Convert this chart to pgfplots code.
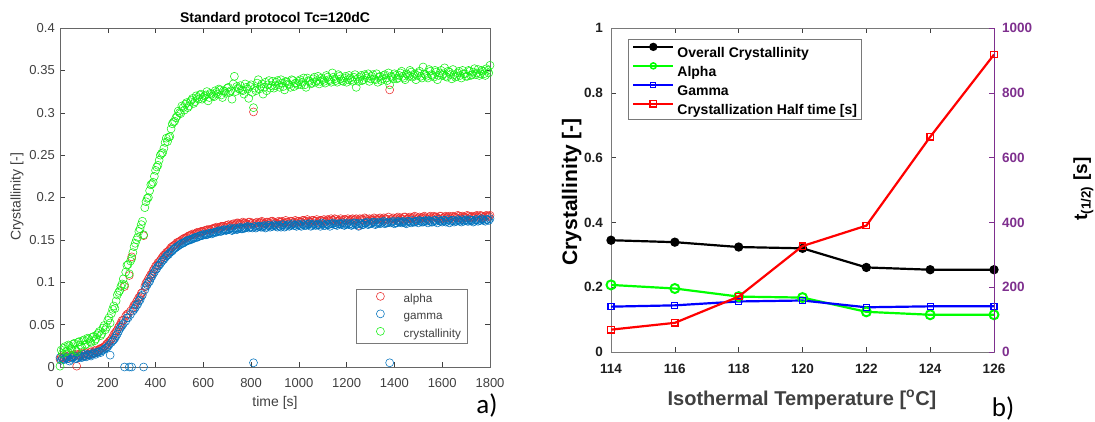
\documentclass[border=0pt]{standalone}
\usepackage{fontspec}
\setmainfont{Liberation Sans}
\newfontfamily\calib{Carlito}
\usepackage{pgfplots}
\pgfplotsset{compat=1.18}
\usepackage{pgfplotstable}

\definecolor{mred}{RGB}{235,45,45}
\definecolor{mblue}{RGB}{0,114,189}
\definecolor{mgreen}{RGB}{20,240,20}
\definecolor{mpurple}{RGB}{126,47,142}
\definecolor{axgray}{RGB}{64,64,64}
\definecolor{txtblack}{RGB}{30,30,30}

% time [s], alpha, gamma, overall crystallinity
\pgfplotstableread{
t a g c
0 .009 .011 .001
5 .012 .008 .020
10 .011 .010 .016
20 .013 .009 .024
30 .010 .012 .019
40 .014 .007 .025
50 .012 .011 .021
60 .015 .013 .028
70 .001 .010 .018
80 .014 .012 .030
90 .016 .011 .024
100 .013 .015 .032
110 .017 .012 .027
120 .015 .014 .033
130 .018 .013 .029
140 .016 .017 .036
150 .020 .015 .033
160 .019 .018 .040
170 .022 .017 .037
180 .023 .020 .046
190 .025 .022 .044
200 .028 .024 .055
210 .031 .014 .052
220 .035 .031 .068
230 .040 .034 .069
240 .044 .039 .085
250 .049 .045 .090
260 .055 .049 .098
270 .095 .000 .097
280 .062 .058 .120
290 .108 .000 .110
300 .130 .000 .128
310 .073 .068 .142
320 .077 .073 .150
330 .082 .078 .160
340 .087 .083 .168
350 .155 .000 .156
360 .099 .095 .195
370 .104 .100 .200
380 .109 .105 .215
390 .114 .110 .218
400 .119 .115 .232
410 .123 .119 .238
420 .126 .122 .250
430 .130 .126 .253
440 .133 .129 .265
450 .136 .132 .266
460 .139 .135 .272
470 .142 .137 .287
480 .144 .140 .290
490 .147 .142 .296
500 .148 .144 .300
510 .150 .146 .308
520 .152 .147 .303
530 .153 .149 .312
540 .155 .150 .308
550 .156 .151 .315
560 .156 .152 .311
570 .158 .153 .320
580 .158 .154 .316
590 .160 .155 .322
600 .160 .156 .318
610 .161 .156 .321
620 .162 .157 .314
630 .161 .158 .323
640 .163 .158 .320
650 .164 .159 .326
660 .163 .160 .322
670 .165 .160 .327
680 .166 .161 .318
690 .165 .162 .325
700 .167 .162 .329
710 .166 .163 .324
720 .168 .161 .316
730 .167 .163 .343
740 .170 .162 .331
750 .169 .164 .328
760 .168 .163 .327
770 .170 .164 .322
780 .169 .165 .330
790 .171 .164 .317
800 .169 .165 .333
810 .301 .005 .306
820 .170 .164 .326
830 .168 .166 .339
840 .171 .165 .331
850 .170 .166 .322
860 .169 .164 .336
870 .171 .167 .333
880 .168 .165 .329
890 .172 .166 .337
900 .170 .167 .332
910 .169 .165 .338
920 .171 .166 .330
930 .172 .168 .335
940 .170 .165 .327
950 .171 .167 .336
960 .169 .166 .333
970 .172 .168 .339
980 .171 .167 .331
990 .170 .166 .335
1000 .172 .168 .337
1010 .171 .166 .333
1020 .173 .168 .341
1030 .170 .167 .330
1040 .172 .169 .338
1050 .171 .166 .334
1060 .173 .168 .340
1070 .172 .167 .336
1080 .170 .168 .343
1090 .173 .166 .337
1100 .172 .169 .339
1110 .171 .167 .335
1120 .174 .168 .342
1130 .172 .166 .338
1140 .173 .169 .347
1150 .175 .168 .340
1160 .172 .167 .336
1170 .173 .169 .343
1180 .171 .168 .338
1190 .174 .167 .341
1200 .173 .169 .336
1210 .172 .168 .344
1220 .174 .167 .339
1230 .173 .170 .342
1240 .175 .168 .330
1250 .167 .166 .337
1260 .174 .169 .344
1270 .173 .168 .339
1280 .175 .170 .343
1290 .172 .168 .346
1300 .174 .169 .340
1310 .173 .171 .345
1320 .175 .168 .339
1330 .174 .170 .336
1340 .176 .169 .343
1350 .173 .171 .340
1360 .175 .169 .345
1370 .174 .170 .338
1380 .327 .005 .333
1390 .175 .171 .342
1400 .174 .169 .346
1410 .176 .170 .340
1420 .173 .171 .344
1430 .175 .170 .349
1440 .177 .171 .341
1450 .174 .169 .346
1460 .176 .172 .343
1470 .175 .170 .348
1480 .177 .171 .344
1490 .174 .172 .339
1500 .176 .170 .347
1510 .175 .172 .343
1520 .177 .171 .354
1530 .176 .173 .345
1540 .174 .170 .341
1550 .178 .172 .349
1560 .175 .171 .344
1570 .177 .173 .350
1580 .176 .170 .339
1590 .178 .172 .347
1600 .175 .171 .344
1610 .177 .173 .353
1620 .176 .172 .342
1630 .178 .170 .348
1640 .175 .173 .340
1650 .177 .171 .345
1660 .176 .172 .343
1670 .178 .173 .349
1680 .175 .171 .341
1690 .177 .172 .346
1700 .176 .174 .343
1710 .178 .172 .350
1720 .177 .173 .344
1730 .176 .171 .348
1740 .178 .174 .345
1750 .177 .172 .351
1760 .179 .173 .346
1770 .176 .174 .349
1780 .178 .172 .344
1790 .177 .174 .350
1800 .179 .175 .356
15 .012 .009 .022
25 .011 .011 .018
35 .013 .010 .026
45 .012 .009 .022
55 .014 .012 .027
65 .013 .010 .020
75 .015 .011 .029
85 .013 .013 .026
95 .015 .012 .031
105 .016 .013 .026
115 .014 .015 .034
125 .017 .014 .030
135 .016 .015 .035
145 .019 .016 .031
155 .018 .017 .038
165 .021 .018 .042
175 .022 .019 .039
185 .024 .021 .049
195 .027 .023 .047
205 .030 .026 .058
215 .033 .029 .063
225 .038 .032 .072
235 .042 .037 .078
245 .047 .042 .088
255 .052 .047 .095
265 .055 .051 .104
275 .060 .054 .112
285 .063 .058 .121
295 .066 .062 .125
305 .070 .066 .135
315 .074 .070 .146
325 .079 .074 .153
335 .083 .079 .163
345 .088 .085 .172
355 .095 .091 .188
365 .101 .097 .199
375 .106 .101 .208
385 .110 .107 .216
395 .116 .112 .225
405 .120 .116 .236
415 .124 .120 .244
425 .128 .124 .252
435 .132 .127 .258
445 .135 .131 .270
455 .137 .133 .271
465 .141 .136 .281
475 .143 .139 .289
485 .145 .141 .294
495 .147 .143 .302
505 .149 .145 .299
515 .151 .146 .306
525 .152 .148 .310
535 .154 .149 .306
545 .155 .150 .313
555 .157 .151 .317
565 .157 .153 .313
575 .159 .153 .318
585 .159 .155 .321
595 .160 .155 .316
605 .161 .157 .320
615 .162 .156 .325
625 .162 .158 .318
635 .163 .157 .322
645 .164 .159 .319
655 .165 .159 .324
665 .164 .161 .328
675 .166 .160 .321
685 .166 .162 .326
695 .167 .161 .323
705 .168 .162 .330
715 .167 .164 .326
725 .169 .162 .334
735 .168 .164 .325
745 .170 .163 .329
755 .169 .165 .332
765 .171 .163 .326
775 .170 .164 .334
785 .168 .166 .328
795 .171 .165 .331
805 .170 .164 .324
815 .169 .166 .329
825 .171 .165 .335
835 .170 .166 .328
845 .172 .165 .334
855 .169 .167 .330
865 .171 .165 .326
875 .170 .167 .338
885 .172 .166 .332
895 .171 .168 .329
905 .170 .166 .336
915 .172 .167 .333
925 .171 .165 .339
935 .170 .168 .331
945 .173 .166 .337
955 .171 .168 .334
965 .172 .167 .330
975 .170 .169 .338
985 .173 .167 .335
995 .172 .168 .333
1005 .171 .167 .339
1015 .173 .169 .336
1025 .172 .167 .333
1035 .174 .168 .341
1045 .171 .169 .337
1055 .173 .167 .335
1065 .172 .169 .342
1075 .174 .168 .338
1085 .172 .168 .334
1095 .173 .170 .341
1105 .174 .167 .337
1115 .172 .169 .344
1125 .173 .168 .339
1135 .175 .169 .336
1145 .173 .170 .342
1155 .174 .168 .338
1165 .172 .169 .345
1175 .175 .169 .340
1185 .173 .170 .337
1195 .174 .168 .343
1205 .175 .170 .339
1215 .173 .169 .341
1225 .175 .168 .337
1235 .174 .170 .345
1245 .172 .169 .340
1255 .175 .170 .342
1265 .174 .168 .338
1275 .176 .170 .345
1285 .174 .171 .341
1295 .175 .169 .337
1305 .173 .170 .343
1315 .176 .171 .340
1325 .174 .169 .346
1335 .175 .171 .342
1345 .174 .170 .338
1355 .176 .172 .344
1365 .175 .170 .341
1375 .177 .171 .347
1385 .174 .170 .343
1395 .176 .172 .340
1405 .175 .170 .344
1415 .177 .172 .341
1425 .176 .171 .347
1435 .174 .172 .343
1445 .177 .170 .339
1455 .175 .172 .345
1465 .177 .171 .350
1475 .176 .173 .342
1485 .178 .171 .346
1495 .175 .172 .344
1505 .177 .173 .349
1515 .176 .171 .341
1525 .178 .172 .346
1535 .175 .172 .343
1545 .177 .173 .351
1555 .176 .171 .345
1565 .178 .173 .342
1575 .177 .172 .348
1585 .175 .174 .344
1595 .178 .172 .350
1605 .176 .173 .346
1615 .178 .171 .343
1625 .177 .174 .349
1635 .176 .172 .345
1645 .178 .173 .351
1655 .177 .172 .342
1665 .179 .174 .347
1675 .176 .172 .344
1685 .178 .174 .350
1695 .177 .173 .346
1705 .179 .172 .343
1715 .176 .174 .349
1725 .178 .173 .345
1735 .177 .172 .352
1745 .179 .174 .347
1755 .176 .173 .344
1765 .178 .175 .350
1775 .177 .173 .346
1785 .179 .174 .352
1795 .178 .173 .347
}\kinetics

% isothermal temperature, overall, alpha, gamma, half time [s]
\pgfplotstableread{
T overall alpha gamma thalf
114 0.345 0.207 0.140 69
116 0.339 0.196 0.144 90
118 0.324 0.171 0.156 171
120 0.320 0.168 0.159 327
122 0.261 0.124 0.138 390
124 0.254 0.115 0.141 664
126 0.254 0.115 0.141 918
}\isotherm

\begin{document}
\begin{tikzpicture}
\path[use as bounding box] (0pt,0pt) rectangle (1095pt,-421pt);

% ---- a) ----
\begin{axis}[
  at={(60pt,-367pt)}, anchor=south west,
  scale only axis, width=430pt, height=339pt,
  xmin=0, xmax=1800, ymin=0, ymax=0.4,
  xtick={0,200,400,600,800,1000,1200,1400,1600,1800},
  xticklabels={0,200,400,600,800,1000,1200,1400,1600,1800},
  ytick={0,0.05,0.1,0.15,0.2,0.25,0.3,0.35,0.4},
  yticklabels={0,0.05,0.1,0.15,0.2,0.25,0.3,0.35,0.4},
  tick align=inside, major tick length=5pt,
  tick style={axgray, line width=0.5pt},
  axis line style={axgray!80, line width=0.6pt},
  ticklabel style={font=\fontsize{13}{15}\selectfont, text=axgray},
  xticklabel style={anchor=base, inner sep=0pt, yshift=-20pt},
  yticklabel style={anchor=east, inner sep=0pt, xshift=-5pt},
  legend cell align=left,
  legend style={at={(0.688,0.230)}, anchor=north west,
    draw=axgray!70, line width=0.6pt, fill=white,
    font=\fontsize{11.7}{13}\selectfont, text=axgray,
    inner xsep=6pt, inner ysep=3pt, row sep=5pt,
    nodes={inner sep=0pt, text height=8.5pt, text depth=2.5pt}},
  legend image code/.code={\path (0pt,3pt) (41pt,3pt);
    \draw[#1] plot coordinates {(18pt,3pt)};},
  every axis plot/.append style={only marks, mark=o, mark size=4pt,
    line width=0.55pt},
]
\addplot[mred] table[x=t,y=a] {\kinetics};
\addplot[mblue] table[x=t,y=g] {\kinetics};
\addplot[mgreen] table[x=t,y=c] {\kinetics};
\legend{alpha,gamma,crystallinity}
\end{axis}

\node[anchor=base, font=\fontsize{14}{16}\bfseries, text=black] at (275pt,-22pt) {Standard protocol Tc=120dC};
\node[anchor=base, font=\fontsize{14}{16}\selectfont, text=axgray] at (275pt,-406pt) {time [s]};
\node[rotate=90, anchor=center, font=\fontsize{14}{16}\selectfont, text=axgray] at (17pt,-197pt) {Crystallinity [-]};
\node[anchor=base, font=\calib\fontsize{27}{30}\selectfont] at (487pt,-413pt) {a)};

% ---- b) left axis ----
\begin{axis}[
  at={(611pt,-352pt)}, anchor=south west,
  scale only axis, width=383pt, height=324pt,
  xmin=114, xmax=126, ymin=0, ymax=1,
  xtick={114,116,118,120,122,124,126},
  xticklabels={114,116,118,120,122,124,126},
  ytick={0,0.2,0.4,0.6,0.8,1},
  yticklabels={0,0.2,0.4,0.6,0.8,1},
  ytick pos=left,
  tick align=inside, major tick length=5pt,
  tick style={axgray, line width=0.5pt},
  axis line style={axgray!70, line width=0.7pt},
  ticklabel style={font=\fontsize{13.5}{15}\bfseries, text=txtblack},
  xticklabel style={anchor=base, inner sep=0pt, yshift=-21pt},
  yticklabel style={anchor=east, inner sep=0pt, xshift=-8pt},
]
\addplot[black, line width=2.2pt, mark=*, mark size=3.5pt] table[x=T,y=overall] {\isotherm};
\addplot[green, line width=2.2pt, mark=o, mark size=4.5pt, mark options={line width=2pt}] table[x=T,y=alpha] {\isotherm};
\addplot[blue, line width=2.2pt, mark=square, mark size=3pt, mark options={line width=1.3pt}] table[x=T,y=gamma] {\isotherm};
\end{axis}

% ---- b) right axis ----
\begin{axis}[
  at={(611pt,-352pt)}, anchor=south west,
  scale only axis, width=383pt, height=324pt,
  xmin=114, xmax=126, ymin=0, ymax=1000,
  axis x line=none, axis y line*=right,
  ytick={0,200,400,600,800,1000},
  yticklabels={0,200,400,600,800,1000},
  tick align=inside, major tick length=5pt,
  tick style={mpurple, line width=0.5pt},
  y axis line style={mpurple, line width=0.7pt},
  ticklabel style={font=\fontsize{13.5}{15}\bfseries, text=mpurple},
  yticklabel style={anchor=west, inner sep=0pt, xshift=8pt},
  legend cell align=left,
  legend style={at={(0.044,0.966)}, anchor=north west,
    draw=axgray!70, line width=0.7pt, fill=white,
    font=\fontsize{14}{16}\bfseries, text=black,
    inner xsep=4pt, inner ysep=3pt, row sep=2pt,
    nodes={inner sep=0pt, text height=15pt, text depth=2pt}},
  legend image code/.code={\path (0pt,4pt) (43pt,4pt);
    \draw[mark repeat=2, mark phase=2, #1] plot coordinates {(0pt,4pt) (20pt,4pt) (40pt,4pt)};},
]
\addlegendimage{black, line width=2.2pt, mark=*, mark size=3pt}
\addlegendimage{green, line width=2.2pt, mark=o, mark size=3pt, mark options={line width=1.5pt}}
\addlegendimage{blue, line width=2.2pt, mark=square, mark size=2.5pt, mark options={line width=1pt}}
\addplot[red, line width=2.2pt, mark=square, mark size=3.2pt, mark options={line width=1.3pt}] table[x=T,y=thalf] {\isotherm};
\legend{Overall Crystallinity,Alpha,Gamma,Crystallization Half time [s]}
\end{axis}

\node[anchor=base, font=\fontsize{20}{22}\bfseries, text=axgray] at (802pt,-405pt) {Isothermal Temperature [\textsuperscript{o}C]};
\node[rotate=90, anchor=base, font=\fontsize{21}{23}\bfseries, text=black] at (577pt,-192pt) {Crystallinity [-]};
\node[rotate=90, anchor=base, font=\fontsize{19}{21}\bfseries, text=black] at (1087pt,-189pt) {t\textsubscript{(1/2)} [s]};
\node[anchor=base, font=\calib\fontsize{27}{30}\selectfont] at (1003pt,-416pt) {b)};
\end{tikzpicture}
\end{document}
